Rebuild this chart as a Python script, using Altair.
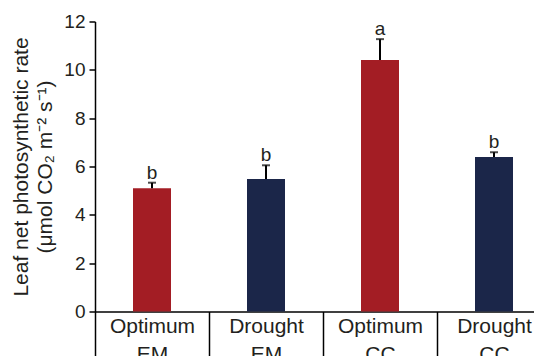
import altair as alt
import pandas as pd

categories = ["Optimum EM", "Drought EM", "Optimum CC", "Drought CC"]
means = [5.10, 5.48, 10.41, 6.39]
upper = [5.33, 6.05, 11.27, 6.59]
letters = ["b", "b", "a", "b"]
bar_colors = ["#A31D24", "#1B2649", "#A31D24", "#1B2649"]
y_ticks = [0, 2, 4, 6, 8, 10, 12]

df = pd.DataFrame({"cat": categories, "mean": means, "upper": upper, "letter": letters})

FONT = "Liberation Sans"
TXT = "#231F20"

x = alt.X(
    "cat:N",
    sort=categories,
    scale=alt.Scale(paddingInner=0, paddingOuter=0, range=[0, 456]),
    axis=alt.Axis(
        title=None,
        labelAngle=0,
        labelExpr="split(datum.label, ' ')",
        labelFont=FONT,
        labelFontSize=21,
        labelColor=TXT,
        labelLineHeight=28,
        labelBaseline="top",
        tickBand="extent",
        tickSize=50,
        tickColor="black",
        tickWidth=1.5,
        labelPadding=-46,
        domainColor="black",
        domainWidth=1.5,
    ),
)

y = alt.Y(
    "mean:Q",
    scale=alt.Scale(domain=[0, 12], nice=False),
    axis=alt.Axis(
        values=y_ticks,
        grid=False,
        title=["Leaf net photosynthetic rate", "(μmol CO₂ m⁻² s⁻¹)"],
        titleFont=FONT,
        titleFontSize=21,
        titleFontWeight="normal",
        titleColor=TXT,
        titleLineHeight=24,
        titlePadding=8,
        labelFont=FONT,
        labelFontSize=19,
        labelColor=TXT,
        labelPadding=4,
        tickSize=6,
        tickColor="black",
        tickWidth=1.5,
        domainColor="black",
        domainWidth=1.5,
    ),
)

base = alt.Chart(df)

bars = base.mark_bar(size=38).encode(
    x=x,
    y=y,
    color=alt.Color("cat:N", scale=alt.Scale(domain=categories, range=bar_colors), legend=None),
)

err = base.mark_rule(color="black", strokeWidth=2).encode(
    x=alt.X("cat:N", sort=categories),
    y="mean:Q",
    y2="upper:Q",
)

cap = base.mark_tick(color="black", thickness=2, size=8, orient="horizontal").encode(
    x=alt.X("cat:N", sort=categories),
    y="upper:Q",
)

txt = base.mark_text(font=FONT, fontSize=19, color=TXT, baseline="alphabetic", dy=-4).encode(
    x=alt.X("cat:N", sort=categories),
    y="upper:Q",
    text="letter:N",
)

chart = (
    alt.layer(bars, err, cap, txt)
    .properties(
        width=439,
        height=290,
        autosize=alt.AutoSizeParams(type="none"),
        padding={"left": 87, "top": 13.5, "right": 0, "bottom": 44},
    )
    .configure_view(stroke=None)
)

chart.save("out.html", embed_options={"renderer": "svg", "actions": False})
